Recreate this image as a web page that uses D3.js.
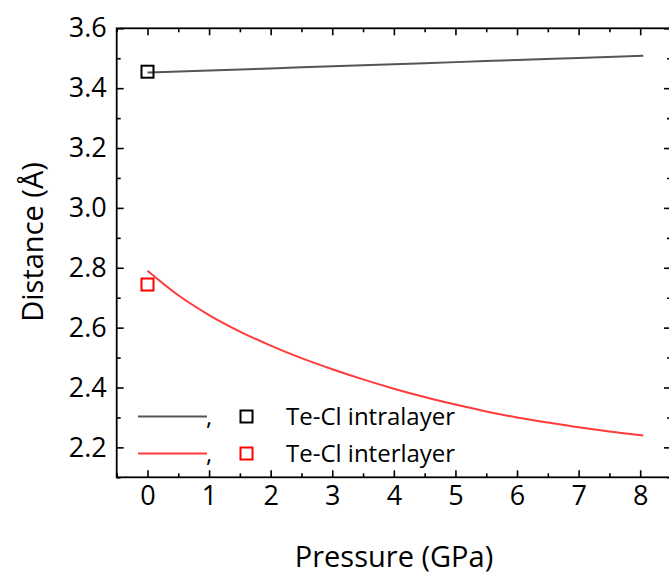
<!DOCTYPE html>
<html><head><meta charset="utf-8">
<script src="https://cdn.jsdelivr.net/npm/d3@7"></script>
<style>
body{margin:0;background:#fff;}
text{font-family:"Open Sans","Noto Sans",sans-serif;fill:#000;}
</style></head>
<body><svg id="c" width="669" height="577"></svg>
<script>
// Data
const intraP = [0, 1, 2, 3, 4, 5, 6, 7, 8.05];
const intraD = [3.452, 3.459, 3.466, 3.473, 3.480, 3.487, 3.494, 3.501, 3.508];
const interP = [0, 0.5, 1, 1.5, 2, 2.5, 3, 3.5, 4, 4.5, 5, 5.5, 6, 6.5, 7, 7.5, 8.05];
const interD = [2.79, 2.708, 2.642, 2.587, 2.54, 2.498, 2.461, 2.427, 2.396, 2.368, 2.343, 2.32, 2.30, 2.283, 2.267, 2.253, 2.24];
const markerP = [0, 0];
const markerD = [3.455, 2.744];
const seriesNames = ["Te-Cl intralayer", "Te-Cl interlayer"];
const seriesColors = ["#555555", "#ff3b3b"];
const markerColors = ["#000000", "#ff0000"];
const xTicks = [0, 1, 2, 3, 4, 5, 6, 7, 8];
const xMinor = [-0.5, 0.5, 1.5, 2.5, 3.5, 4.5, 5.5, 6.5, 7.5, 8.5];
const yTicks = [2.2, 2.4, 2.6, 2.8, 3.0, 3.2, 3.4, 3.6];
const yMinor = [2.1, 2.3, 2.5, 2.7, 2.9, 3.1, 3.3, 3.5];

const svg = d3.select("#c");
const L = 116.7, R = 671, T = 28.3, B = 477.3;
const x = d3.scaleLinear().domain([-0.5, 8.5]).range([L, R]);
const y = d3.scaleLinear().domain([2.1, 3.6]).range([B, T]);

function axisStyle(g){ g.select(".domain").remove(); g.selectAll("line").attr("stroke","#000").attr("stroke-width",1.6); }

// major/minor ticks, inward, all four sides
svg.append("g").attr("transform",`translate(0,${B})`).call(d3.axisBottom(x).tickValues(xTicks).tickSize(-7).tickFormat(d3.format("d")).tickPadding(9)).call(axisStyle)
  .selectAll("text").attr("font-size",27).attr("font-family","Open Sans");
svg.append("g").attr("transform",`translate(0,${B})`).call(d3.axisBottom(x).tickValues(xMinor).tickSize(-4).tickFormat("")).call(axisStyle);
svg.append("g").attr("transform",`translate(0,${T})`).call(d3.axisTop(x).tickValues(xTicks).tickSize(-7).tickFormat("")).call(axisStyle);
svg.append("g").attr("transform",`translate(0,${T})`).call(d3.axisTop(x).tickValues(xMinor).tickSize(-4).tickFormat("")).call(axisStyle);
svg.append("g").attr("transform",`translate(${L},0)`).call(d3.axisLeft(y).tickValues(yTicks).tickSize(-7).tickFormat(d3.format(".1f")).tickPadding(10)).call(axisStyle)
  .selectAll("text").attr("font-size",27).attr("font-family","Open Sans");
svg.append("g").attr("transform",`translate(${L},0)`).call(d3.axisLeft(y).tickValues(yMinor).tickSize(-4).tickFormat("")).call(axisStyle);
svg.append("g").attr("transform",`translate(${R},0)`).call(d3.axisRight(y).tickValues(yTicks).tickSize(-7).tickFormat("")).call(axisStyle);
svg.append("g").attr("transform",`translate(${R},0)`).call(d3.axisRight(y).tickValues(yMinor).tickSize(-4).tickFormat("")).call(axisStyle);

// frame
svg.append("rect").attr("x",L).attr("y",T).attr("width",R-L).attr("height",B-T)
  .attr("fill","none").attr("stroke","#000").attr("stroke-width",1.8);

// lines
const line = d3.line().curve(d3.curveMonotoneX);
const series = [intraP.map((p,i)=>[x(p),y(intraD[i])]), interP.map((p,i)=>[x(p),y(interD[i])])];
series.forEach((s,i)=>{
  svg.append("path").attr("d",line(s)).attr("fill","none").attr("stroke",seriesColors[i]).attr("stroke-width",2);
});
// markers
const ms = 12;
markerP.forEach((p,i)=>{
  svg.append("rect").attr("x",x(p)-ms/2).attr("y",y(markerD[i])-ms/2).attr("width",ms).attr("height",ms)
    .attr("fill","none").attr("stroke",markerColors[i]).attr("stroke-width",2);
});

// legend
const legY = [416.5, 453.5];
seriesNames.forEach((n,i)=>{
  const gy = legY[i];
  svg.append("line").attr("x1",138).attr("x2",207).attr("y1",gy).attr("y2",gy).attr("stroke",seriesColors[i]).attr("stroke-width",2);
  svg.append("text").attr("x",206).attr("y",gy+8).attr("font-size",24).text(",");
  svg.append("rect").attr("x",240.5).attr("y",gy-6).attr("width",12).attr("height",12).attr("fill","none").attr("stroke",markerColors[i]).attr("stroke-width",2);
  svg.append("text").attr("x",286).attr("y",gy+8.5).attr("font-size",24).text(n);
});

// titles
svg.append("text").attr("x",394).attr("y",567).attr("text-anchor","middle").attr("font-size",29).text("Pressure (GPa)");
svg.append("text").attr("transform",`translate(43,242) rotate(-90)`).attr("text-anchor","middle").attr("font-size",29).text("Distance (Å)");
</script></body></html>
